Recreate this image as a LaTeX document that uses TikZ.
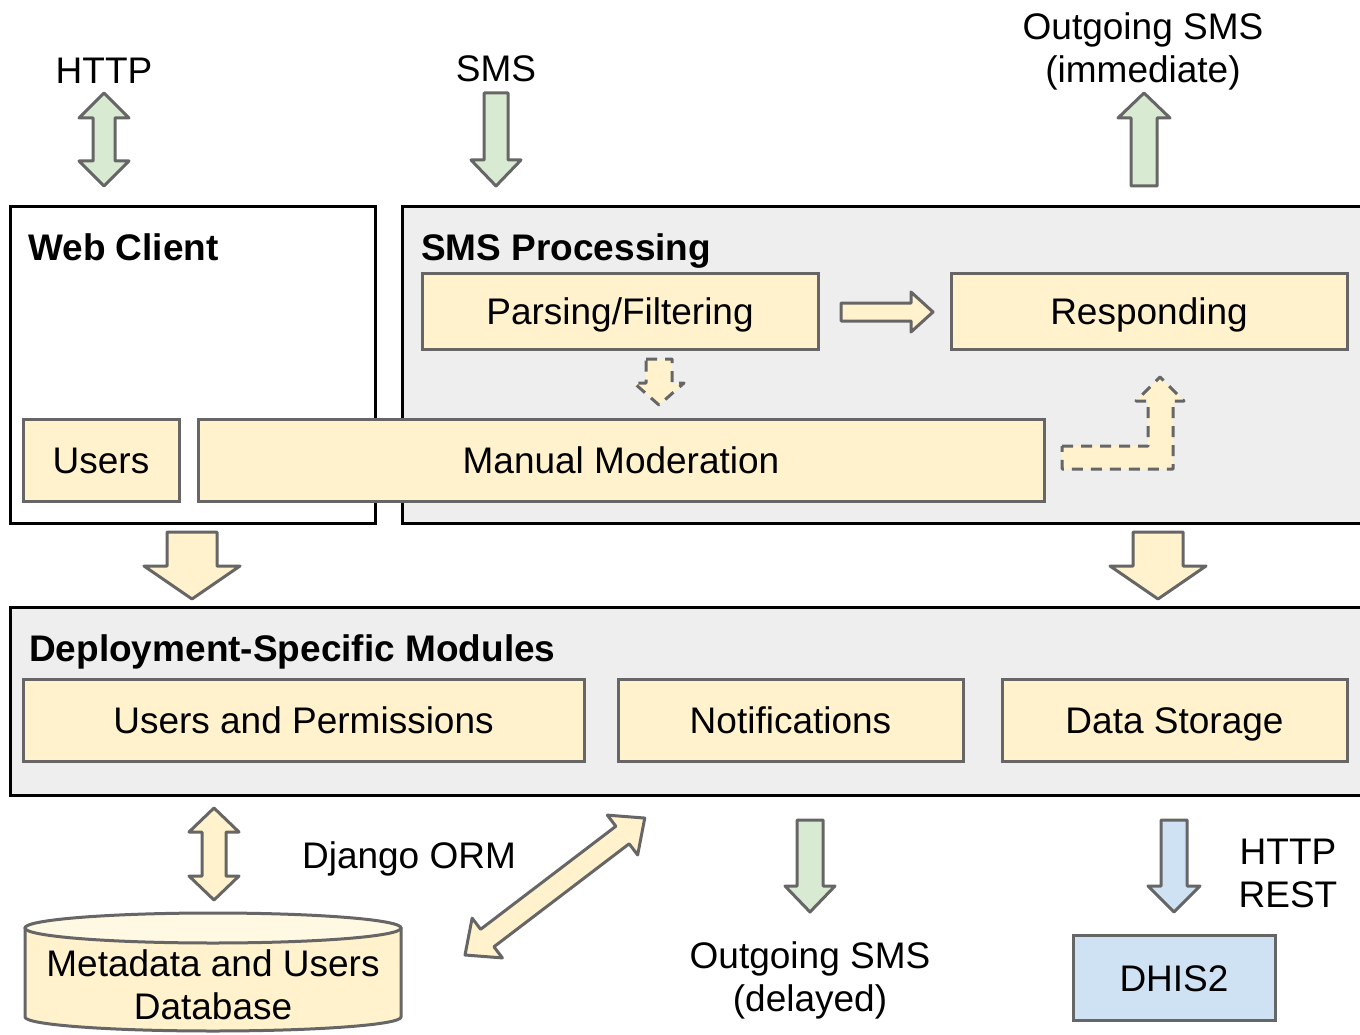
\documentclass[tikz,border=0pt]{standalone}
\usepackage{fontspec}
\setmainfont{Liberation Sans}
\definecolor{ylw}{HTML}{FFF2CC}
\definecolor{grn}{HTML}{D9EAD3}
\definecolor{blu}{HTML}{CFE2F3}
\definecolor{bgg}{HTML}{EEEEEE}
\definecolor{edg}{HTML}{666666}
% vertical down arrow: style, cx, ytop, ybot, shaft hw, head hw, head len
\newcommand\blkdown[7]{\draw[#1] ({#2-#5},#3) -- ({#2+#5},#3) -- ({#2+#5},{#4-#7}) -- ({#2+#6},{#4-#7}) -- (#2,#4) -- ({#2-#6},{#4-#7}) -- ({#2-#5},{#4-#7}) -- cycle;}
\newcommand\blkup[7]{\draw[#1] ({#2-#5},#4) -- ({#2+#5},#4) -- ({#2+#5},{#3+#7}) -- ({#2+#6},{#3+#7}) -- (#2,#3) -- ({#2-#6},{#3+#7}) -- ({#2-#5},{#3+#7}) -- cycle;}
\newcommand\blkboth[7]{\draw[#1] ({#2-#5},{#3+#7}) -- ({#2-#6},{#3+#7}) -- (#2,#3) -- ({#2+#6},{#3+#7}) -- ({#2+#5},{#3+#7}) -- ({#2+#5},{#4-#7}) -- ({#2+#6},{#4-#7}) -- (#2,#4) -- ({#2-#6},{#4-#7}) -- ({#2-#5},{#4-#7}) -- cycle;}
\tikzset{
  big/.style={font=\fontsize{37}{43}\selectfont},
  container/.style={draw=black, line width=3pt},
  inbox/.style={draw=edg, fill=ylw, line width=3pt, inner sep=0pt, big, text height=27pt, text depth=0pt},
  arr/.style={draw=edg, line width=3pt, line join=round},
  dsh/.style={arr, fill=ylw, dash pattern=on 11pt off 8pt},
  lbl/.style={big, align=center, inner sep=0pt},
  lbl1/.style={big, inner sep=0pt, text height=27pt, text depth=0pt},
  ttl/.style={font=\fontsize{37}{43}\selectfont\bfseries, anchor=base west, inner sep=0pt}
}
\begin{document}
\begin{tikzpicture}[x=1pt, y=-1pt]
\useasboundingbox (0,0) rectangle (1360,1035);
\fill[white] (0,0) rectangle (1360,1035);

% containers
\draw[container, fill=white] (10,207) rectangle (375,523);
\draw[container, fill=bgg] (402,207) rectangle (1362,523);
\draw[container, fill=bgg] (10,607) rectangle (1362,795);

\node[ttl] (wct) at (28,261) {Web Client};
\node[ttl] (smst) at (421,261) {SMS Processing};
\node[ttl] (dsmt) at (29,661) {Deployment-Specific Modules};

% inner boxes
\node[inbox, minimum width=396pt, minimum height=76pt] (pf) at (620,311) {Parsing/Filtering};
\node[inbox, minimum width=396pt, minimum height=76pt] (resp) at (1149,311) {Responding};
\node[inbox, minimum width=156pt, minimum height=82pt] (users) at (101,460) {Users};
\node[inbox, minimum width=846pt, minimum height=82pt] (mm) at (621,460) {Manual Moderation};
\node[inbox, minimum width=561pt, minimum height=82pt] (uap) at (303.5,720) {Users and Permissions};
\node[inbox, minimum width=345pt, minimum height=82pt] (notif) at (790.5,720) {Notifications};
\node[inbox, minimum width=345pt, minimum height=82pt] (ds) at (1174.5,720) {Data Storage};
\node[inbox, fill=blu, minimum width=202pt, minimum height=85pt] (dhis) at (1174,977.5) {DHIS2};

% top labels and arrows
\node[lbl1] (http) at (104,70) {HTTP};
\node[lbl1] (sms) at (496,68) {SMS};
\node[lbl] (outi) at (1143,51) {Outgoing SMS\\(immediate)};
\blkboth{arr, fill=grn}{104}{93}{186}{11}{25}{25}
\blkdown{arr, fill=grn}{496}{93}{186}{12}{25}{26}
\blkup{arr, fill=grn}{1144}{93}{186}{13}{26}{25}

% inside SMS processing
\draw[arr, fill=ylw] (841,303) -- (911,303) -- (911,292) -- (933,312) -- (911,332) -- (911,321) -- (841,321) -- cycle;
\blkdown{dsh}{659}{359}{405}{13}{25}{22}
\draw[dsh] (1062,446) -- (1148,446) -- (1148,401) -- (1136,401) -- (1160,377) -- (1184,401) -- (1173,401) -- (1173,469) -- (1062,469) -- cycle;

% down arrows to modules
\blkdown{arr, fill=ylw}{192}{532}{599}{25}{48}{33}
\blkdown{arr, fill=ylw}{1158}{532}{599}{25}{48}{33}

% bottom
\blkboth{arr, fill=ylw}{214}{808}{900}{12}{25}{24}
\node[lbl1] (orm) at (409,855) {Django ORM};
\begin{scope}[shift={(465,955)}, rotate=37.3]
\draw[arr, fill=ylw] (0,0) -- (28,-25) -- (28,-11) -- (198,-11) -- (198,-25) -- (226,0) -- (198,25) -- (198,11) -- (28,11) -- (28,25) -- cycle;
\end{scope}
\blkdown{arr, fill=grn}{810}{820}{912}{13}{25}{26}
\node[lbl] (outd) at (810,980) {Outgoing SMS\\(delayed)};
\blkdown{arr, fill=blu}{1174}{820}{912}{13}{26}{26}
\node[lbl] (rest) at (1288,873) {HTTP\\REST};

% database cylinder
\draw[arr, fill=ylw] (25,928) -- (25,1017) arc[start angle=180, end angle=360, x radius=188pt, y radius=14pt] -- (401,928) arc[start angle=0, end angle=180, x radius=188pt, y radius=14pt] -- cycle;
\draw[arr, fill=ylw!55!white] (213,928) ellipse[x radius=188pt, y radius=15pt];
\node[lbl] (db) at (213,985) {Metadata and Users\\Database};
\end{tikzpicture}
\end{document}
